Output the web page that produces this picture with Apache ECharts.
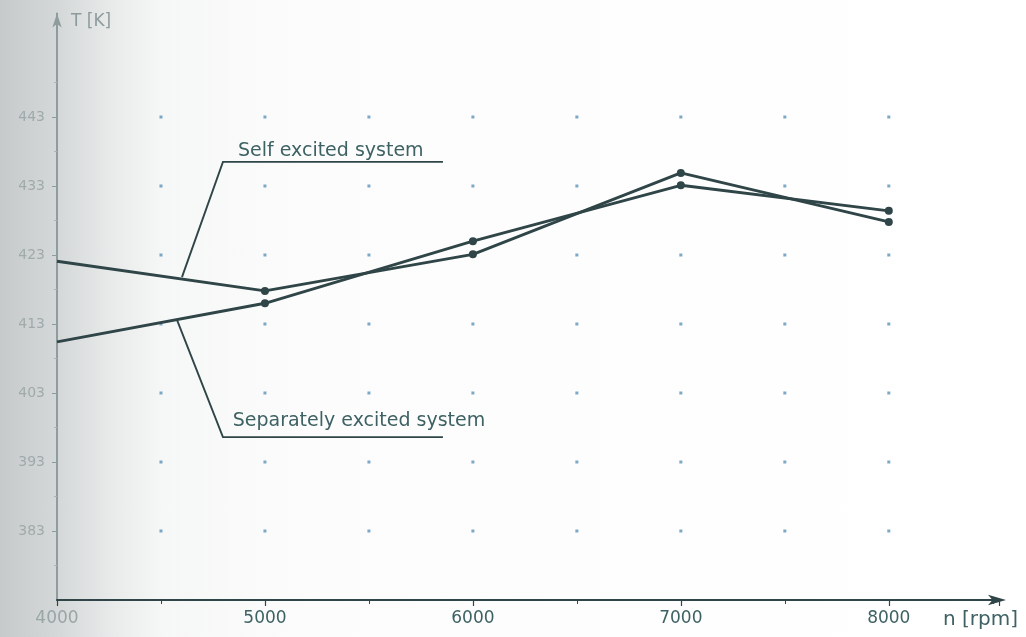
<!DOCTYPE html>
<html>
<head>
<meta charset="utf-8">
<script src="https://cdn.jsdelivr.net/npm/echarts@6/dist/echarts.min.js"></script>
<style>
  html, body { margin: 0; padding: 0; }
  body {
    width: 1026px; height: 637px; overflow: hidden;
    background: linear-gradient(to right, #c6caca 0%, #d6d9d9 6%, #e9ebeb 11%, #f6f7f7 16%, #fcfcfc 30%, #ffffff 100%);
  }
  #chart { width: 1026px; height: 637px; }
</style>
</head>
<body>
<div id="chart"></div>
<script>
// Engine speed (rpm) and temperature (K) readings
const speeds = [4000, 5000, 6000, 7000, 8000];
const selfExcited = [422.1, 417.8, 423.1, 434.9, 427.8];
const separatelyExcited = [410.4, 416.0, 425.0, 433.1, 429.4];

// Axis ticks
const tempTicks = [383, 393, 403, 413, 423, 433, 443];
const tempMinorTicks = [378, 388, 398, 408, 418, 428, 438, 448];
const speedDotTicks = [4500, 5000, 5500, 6000, 6500, 7000, 7500, 8000];

// Curve annotations: anchor on the curve, elbow, end of the underline (data units)
const annotations = [
  { text: 'Self excited system', anchor: [4601, 419.8], elbow: [4798, 436.5], end: [5856, 436.5], textAt: [4870, 438.0] },
  { text: 'Separately excited system', anchor: [4577, 413.6], elbow: [4798, 396.6], end: [5856, 396.6], textAt: [4845, 398.9] }
];

const ink = '#2f4547';
const textInk = '#3e6163';
const font = '"DejaVu Sans", sans-serif';

const dots = [];
speedDotTicks.forEach(x => tempTicks.forEach(y => dots.push([x, y])));

const chart = echarts.init(document.getElementById('chart'), null, { renderer: 'canvas' });

const lineSeries = (name, values) => ({
  name,
  type: 'line',
  data: speeds.map((s, i) => [s, values[i]]),
  symbol: 'circle',
  symbolSize: v => (v[0] === speeds[0] ? 0 : 8),
  lineStyle: { color: ink, width: 2.9 },
  itemStyle: { color: ink },
  z: 5,
  animation: false
});

chart.setOption({
  animation: false,
  grid: { left: 57, right: 27, top: 13.5, bottom: 37 },
  xAxis: {
    type: 'value',
    min: 4000, max: 8530, interval: 1000,
    axisLine: { show: true, lineStyle: { color: ink, width: 2.2 }, symbol: ['none', 'arrow'], symbolSize: [8, 18], symbolOffset: [0, 7] },
    axisTick: { show: true, length: 6, lineStyle: { color: ink, width: 1.2 } },
    minorTick: { show: true, splitNumber: 2, length: 4, lineStyle: { color: ink, width: 1 } },
    splitLine: { show: false },
    axisLabel: {
      showMaxLabel: false,
      margin: 10,
      fontFamily: font, fontSize: 17,
      formatter: v => (v === 4000 ? '{faint|' + v + '}' : '{ink|' + v + '}'),
      rich: {
        ink: { color: textInk, fontFamily: font, fontSize: 17 },
        faint: { color: '#9aa5a6', fontFamily: font, fontSize: 17 }
      }
    }
  },
  yAxis: [{
    type: 'value',
    min: 373, max: 458,
    axisLine: { show: true, lineStyle: { color: '#8f9c9d', width: 2 }, symbol: ['none', 'arrow'], symbolSize: [7, 14] },
    axisTick: { show: true, length: 5, customValues: tempTicks, lineStyle: { color: '#8f9c9d', width: 1 } },
    splitLine: { show: false },
    axisLabel: { customValues: tempTicks, color: '#a0aaab', fontFamily: font, fontSize: 14, margin: 12 }
  }, {
    type: 'value',
    min: 373, max: 458, position: 'left',
    axisLine: { show: false },
    axisTick: { show: true, length: 3, customValues: tempMinorTicks, lineStyle: { color: '#aab4b5', width: 1 } },
    splitLine: { show: false },
    axisLabel: { show: false }
  }],
  series: [
    {
      type: 'scatter',
      data: dots,
      symbol: 'rect',
      symbolSize: 3,
      itemStyle: { color: '#5a93b8' },
      silent: true,
      z: 1
    },
    lineSeries('Self excited system', selfExcited),
    lineSeries('Separately excited system', separatelyExcited)
  ]
});

// Leader lines and labels placed through the chart's own coordinate system
function drawAnnotations() {
  const px = p => chart.convertToPixel({ gridIndex: 0 }, p);
  const elements = [];
  annotations.forEach(a => {
    elements.push({
      type: 'polyline',
      shape: { points: [px(a.anchor), px(a.elbow), px(a.end)] },
      style: { stroke: ink, lineWidth: 1.9, fill: null },
      z: 10
    });
    const t = px(a.textAt);
    elements.push({
      type: 'text',
      x: t[0], y: t[1],
      style: { text: a.text, fill: textInk, font: '19px ' + font, textVerticalAlign: 'middle' },
      z: 10
    });
  });
  // Axis names
  const yTop = px([4000, 458]);
  elements.push({
    type: 'text', x: yTop[0] + 14, y: 22,
    style: { text: 'T [K]', fill: '#8e9b9c', font: '17px ' + font, textVerticalAlign: 'middle' }
  });
  const xEnd = px([8530, 373]);
  elements.push({
    type: 'text', x: xEnd[0] - 56, y: 620,
    style: { text: 'n [rpm]', fill: textInk, font: '20px ' + font, textVerticalAlign: 'middle' }
  });
  chart.setOption({ graphic: elements });
}
drawAnnotations();
</script>
</body>
</html>
